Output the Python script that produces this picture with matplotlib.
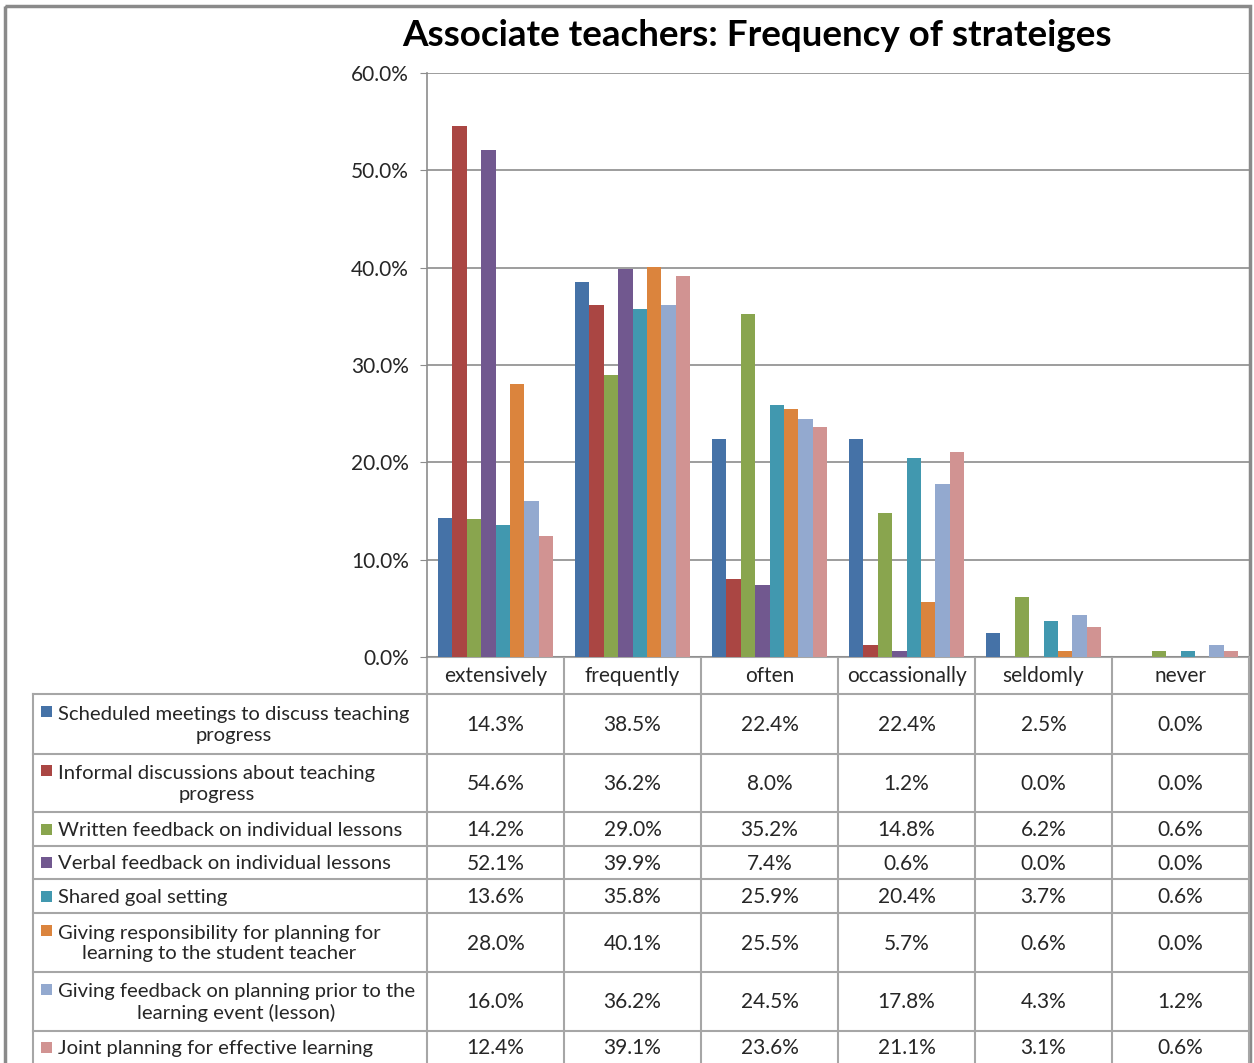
import numpy as np
import matplotlib.pyplot as plt
from matplotlib.patches import Rectangle

plt.rcParams['font.family'] = ['Lato', 'DejaVu Sans']

categories = ['extensively', 'frequently', 'often', 'occassionally', 'seldomly', 'never']
series_names = [
    'Scheduled meetings to discuss teaching\nprogress',
    'Informal discussions about teaching\nprogress',
    'Written feedback on individual lessons',
    'Verbal feedback on individual lessons',
    'Shared goal setting',
    'Giving responsibility for planning for\nlearning to the student teacher',
    'Giving feedback on planning prior to the\nlearning event (lesson)',
    'Joint planning for effective learning',
]
scheduled = [14.3, 38.5, 22.4, 22.4, 2.5, 0.0]
informal = [54.6, 36.2, 8.0, 1.2, 0.0, 0.0]
written = [14.2, 29.0, 35.2, 14.8, 6.2, 0.6]
verbal = [52.1, 39.9, 7.4, 0.6, 0.0, 0.0]
shared = [13.6, 35.8, 25.9, 20.4, 3.7, 0.6]
responsibility = [28.0, 40.1, 25.5, 5.7, 0.6, 0.0]
planning_feedback = [16.0, 36.2, 24.5, 17.8, 4.3, 1.2]
joint = [12.4, 39.1, 23.6, 21.1, 3.1, 0.6]
series = [scheduled, informal, written, verbal, shared, responsibility,
          planning_feedback, joint]
colors = ['#4572A7', '#AA4643', '#89A54E', '#71588F', '#4198AF', '#DB843D',
          '#93A9CF', '#D19392']

W, H = 1254, 1063
fig = plt.figure(figsize=(W / 100, H / 100), dpi=100)

# overlay in pixel coordinates for border and data table
ov = fig.add_axes([0, 0, 1, 1], zorder=0)
ov.set_xlim(0, W)
ov.set_ylim(H, 0)
ov.axis('off')

left, right, top, bottom = 427, 1249, 73, 657
ax = fig.add_axes([left / W, 1 - bottom / H, (right - left) / W, (bottom - top) / H], zorder=1)
ax.set_facecolor('none')

n = len(series)
bw = 0.105
x = np.arange(len(categories))
for i, (vals, c) in enumerate(zip(series, colors)):
    ax.bar(x + (i - (n - 1) / 2) * bw, np.array(vals) / 100, bw, color=c, zorder=2)

ax.set_xlim(-0.5, len(categories) - 0.5)
ax.set_ylim(0, 0.6)
yt = np.arange(0, 0.61, 0.1)
ax.set_yticks(yt)
ax.set_yticklabels([f'{v * 100:.1f}%' for v in yt], fontsize=15, color='#262626')
ax.set_xticks([])
ax.yaxis.grid(True, color='#8c8c8c', lw=1.2, zorder=0)
ax.tick_params(axis='y', length=5, color='#8c8c8c', pad=8)
for s in ['top', 'right', 'bottom']:
    ax.spines[s].set_visible(False)
ax.spines['left'].set_color('#8c8c8c')
ax.spines['left'].set_linewidth(1.2)

# chart border
ov.add_patch(Rectangle((5, 6), 1245, 1100, fill=False, ec='#8a8a8a', lw=2.5))

fig.text(757 / W, 1 - 35 / H, 'Associate teachers: Frequency of strateiges',
         ha='center', va='center', fontsize=26.5, fontweight='bold', color='black')

# data table
line_c = '#a6a6a6'
col_w = (right - left) / len(categories)
col_x = [left + k * col_w for k in range(len(categories) + 1)]
rows = [694, 754, 812, 846, 879, 913, 972, 1031, 1064]
tab_left = 33
head_top = bottom

ov.plot([left, right], [head_top, head_top], color=line_c, lw=1.5)
for yy in rows[:-1]:
    ov.plot([tab_left, right], [yy, yy], color=line_c, lw=1.5)
for xx in col_x:
    ov.plot([xx, xx], [head_top, H + 5], color=line_c, lw=1.5)
ov.plot([tab_left, tab_left], [rows[0], H + 5], color=line_c, lw=1.5)

for k, cat in enumerate(categories):
    ov.text((col_x[k] + col_x[k + 1]) / 2, (head_top + rows[0]) / 2 + 1, cat,
            ha='center', va='center', fontsize=15, color='#262626')

for r, (name, vals, c) in enumerate(zip(series_names, series, colors)):
    y0, y1 = rows[r], rows[r + 1]
    yc = (y0 + y1) / 2
    nlines = name.count('\n') + 1
    sq_y = yc - (nlines - 1) * 12.5
    ov.add_patch(Rectangle((41, sq_y - 5.5), 11, 11, color=c, lw=0))
    ov.text(58, yc + 1, name, ha='left', va='center', multialignment='center',
            fontsize=14.6, color='#262626', linespacing=1.28)
    for k, v in enumerate(vals):
        ov.text((col_x[k] + col_x[k + 1]) / 2, yc + 1, f'{v:.1f}%',
                ha='center', va='center', fontsize=15, color='#262626')

fig.savefig('out.png', dpi=100, facecolor='white')
